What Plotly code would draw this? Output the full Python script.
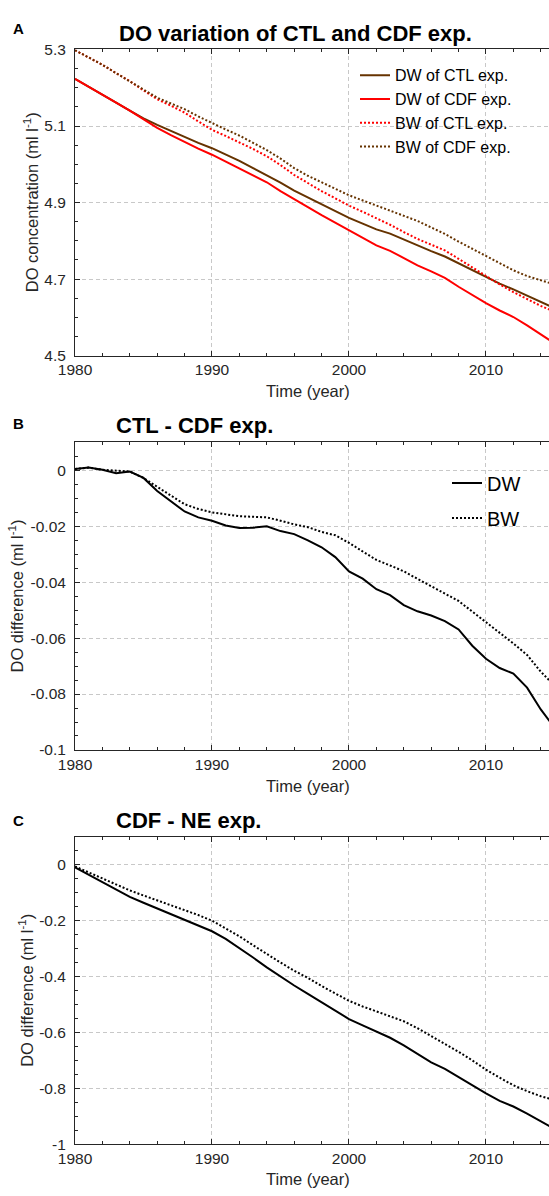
import plotly.graph_objects as go

# ---------------- data ----------------
years = list(range(1980, 2016))

# Panel A: DO concentration (ml l-1)
dw_ctl = [5.223, 5.203, 5.182, 5.161, 5.140, 5.120, 5.103, 5.087, 5.071, 5.056,
          5.042, 5.026, 5.009, 4.990, 4.972, 4.952, 4.931, 4.913, 4.895, 4.878,
          4.860, 4.845, 4.830, 4.819, 4.803, 4.788, 4.773, 4.759, 4.741, 4.722,
          4.704, 4.688, 4.673, 4.656, 4.640, 4.624]
dw_cdf = [5.223, 5.203, 5.182, 5.161, 5.140, 5.118, 5.095, 5.076, 5.058, 5.041,
          5.025, 5.007, 4.989, 4.970, 4.953, 4.930, 4.908, 4.888, 4.867, 4.847,
          4.826, 4.808, 4.788, 4.774, 4.754, 4.736, 4.720, 4.703, 4.680, 4.658,
          4.637, 4.618, 4.601, 4.579, 4.555, 4.532]
bw_ctl = [5.298, 5.279, 5.260, 5.238, 5.217, 5.193, 5.170, 5.153, 5.135, 5.112,
          5.090, 5.074, 5.058, 5.040, 5.021, 4.998, 4.972, 4.950, 4.930, 4.911,
          4.892, 4.876, 4.860, 4.842, 4.823, 4.805, 4.790, 4.775, 4.753, 4.731,
          4.707, 4.686, 4.666, 4.648, 4.630, 4.615]
bw_cdf = [5.298, 5.279, 5.260, 5.238, 5.217, 5.195, 5.174, 5.159, 5.144, 5.125,
          5.107, 5.091, 5.075, 5.056, 5.037, 5.015, 4.990, 4.970, 4.952, 4.936,
          4.919, 4.906, 4.893, 4.879, 4.866, 4.852, 4.835, 4.818, 4.798, 4.779,
          4.759, 4.740, 4.723, 4.708, 4.696, 4.686]

# Panel B: CTL - CDF exp. difference
diffB_dw = [0.0005, 0.001, 0.0002, -0.001, -0.0004, -0.0027, -0.0074, -0.011, -0.0147, -0.0168,
            -0.018, -0.0197, -0.0206, -0.0205, -0.020, -0.0217, -0.0228, -0.025, -0.0275, -0.031,
            -0.0361, -0.0387, -0.0425, -0.0446, -0.0482, -0.0504, -0.0519, -0.0539, -0.0569, -0.0627,
            -0.0674, -0.0707, -0.0727, -0.0777, -0.0855, -0.092]
diffB_bw = [0.0005, 0.001, 0.0002, -0.0002, -0.0004, -0.0027, -0.006, -0.009, -0.0121, -0.0138,
            -0.015, -0.0158, -0.0164, -0.0166, -0.0168, -0.018, -0.0193, -0.0203, -0.022, -0.0232,
            -0.0259, -0.029, -0.032, -0.034, -0.0361, -0.0388, -0.0414, -0.044, -0.0467, -0.0505,
            -0.0543, -0.058, -0.0619, -0.066, -0.072, -0.077]

# Panel C: CDF - NE exp. difference
diffC_dw = [-0.0095, -0.036, -0.062, -0.089, -0.115, -0.136, -0.156, -0.177, -0.197, -0.217,
            -0.238, -0.265, -0.297, -0.332, -0.367, -0.400, -0.432, -0.462, -0.492, -0.522,
            -0.552, -0.575, -0.596, -0.619, -0.646, -0.675, -0.707, -0.730, -0.760, -0.789,
            -0.818, -0.845, -0.865, -0.890, -0.917, -0.945]
diffC_bw = [-0.006, -0.028, -0.050, -0.071, -0.092, -0.110, -0.127, -0.145, -0.162, -0.180,
            -0.200, -0.227, -0.256, -0.288, -0.320, -0.350, -0.379, -0.405, -0.434, -0.460,
            -0.487, -0.507, -0.525, -0.542, -0.560, -0.585, -0.613, -0.640, -0.669, -0.700,
            -0.733, -0.762, -0.789, -0.810, -0.828, -0.842]

x_ticks = [1980, 1990, 2000, 2010]
x_ticktext = ["1980", "1990", "2000", "2010"]
a_ticks = [4.5, 4.7, 4.9, 5.1, 5.3]
a_ticktext = ["4.5", "4.7", "4.9", "5.1", "5.3"]
b_ticks = [0, -0.02, -0.04, -0.06, -0.08, -0.1]
b_ticktext = ["0", "-0.02", "-0.04", "-0.06", "-0.08", "-0.1"]
c_ticks = [0, -0.2, -0.4, -0.6, -0.8, -1]
c_ticktext = ["0", "-0.2", "-0.4", "-0.6", "-0.8", "-1"]

# ---------------- layout helpers ----------------
W, H = 549, 1196
L = 75
FONT = "Liberation Sans, Arial, Helvetica, sans-serif"
AX = "#262626"
BROWN = "#663300"
RED = "#ff0000"


def px(p):
    return (p - L) / (W - L)


def py(p):
    return 1 - p / H


fig = go.Figure()

# Panel A
fig.add_trace(go.Scatter(x=years, y=dw_ctl, mode="lines", name="DW of CTL exp.",
                         line=dict(color=BROWN, width=2), legend="legend",
                         xaxis="x", yaxis="y"))
fig.add_trace(go.Scatter(x=years, y=dw_cdf, mode="lines", name="DW of CDF exp.",
                         line=dict(color=RED, width=2), legend="legend",
                         xaxis="x", yaxis="y"))
fig.add_trace(go.Scatter(x=years, y=bw_ctl, mode="lines", name="BW of CTL exp.",
                         line=dict(color=RED, width=2, dash="2px,2px"), legend="legend",
                         xaxis="x", yaxis="y"))
fig.add_trace(go.Scatter(x=years, y=bw_cdf, mode="lines", name="BW of CDF exp.",
                         line=dict(color=BROWN, width=2, dash="2px,2px"), legend="legend",
                         xaxis="x", yaxis="y"))

# Panel B
fig.add_trace(go.Scatter(x=years, y=diffB_dw, mode="lines", name="DW",
                         line=dict(color="black", width=2), legend="legend2", legendgroup="b1",
                         xaxis="x2", yaxis="y2"))
fig.add_trace(go.Scatter(x=years, y=diffB_bw, mode="lines", name="BW",
                         line=dict(color="black", width=2, dash="2px,2px"), legend="legend2",
                         legendgroup="b2", xaxis="x2", yaxis="y2"))

# Panel C
fig.add_trace(go.Scatter(x=years, y=diffC_dw, mode="lines", name="DW", showlegend=False,
                         line=dict(color="black", width=2), xaxis="x3", yaxis="y3"))
fig.add_trace(go.Scatter(x=years, y=diffC_bw, mode="lines", name="BW", showlegend=False,
                         line=dict(color="black", width=2, dash="2px,2px"), xaxis="x3", yaxis="y3"))

tickfont = dict(family=FONT, size=15.5, color=AX)


def xaxis(anchor):
    return dict(range=[1980, 2014.6], tickvals=x_ticks, ticktext=x_ticktext,
                ticks="inside", ticklen=5, tickcolor=AX, tickwidth=1,
                showline=True, linecolor=AX, linewidth=1, mirror="ticks",
                showgrid=True, gridcolor="#c8c8c8", griddash="4px,3px", gridwidth=1,
                zeroline=False, tickfont=tickfont, anchor=anchor, domain=[0, 1],
                minor=dict(tickmode="linear", tick0=1980, dtick=2, ticks="inside",
                           ticklen=3, tickcolor=AX, showgrid=False),
                fixedrange=True)


def yaxis(anchor, rng, tv, tt, dom, minor_dtick, minor_tick0):
    return dict(range=rng, tickvals=tv, ticktext=tt, ticks="inside", ticklen=5,
                tickcolor=AX, tickwidth=1, showline=True, linecolor=AX, linewidth=1,
                mirror=False, showgrid=True, gridcolor="#c8c8c8", griddash="4px,3px",
                gridwidth=1, zeroline=False, tickfont=tickfont, anchor=anchor,
                domain=dom, ticklabelstandoff=5,
                minor=dict(tickmode="linear", tick0=minor_tick0, dtick=minor_dtick,
                           ticks="inside", ticklen=3, tickcolor=AX, showgrid=False),
                fixedrange=True)


fig.update_layout(
    width=W, height=H,
    margin=dict(l=L, r=0, t=0, b=0),
    paper_bgcolor="white", plot_bgcolor="white",
    font=dict(family=FONT, color=AX),
    xaxis=xaxis("y"),
    xaxis2=xaxis("y2"),
    xaxis3=xaxis("y3"),
    yaxis=yaxis("x", [4.4999, 5.3001], a_ticks, a_ticktext, [py(351.7), py(41)], 0.05, 4.5),
    yaxis2=yaxis("x2", [-0.10002, 0.01], b_ticks, b_ticktext, [py(751.7), py(439.7)], 0.005, 0),
    yaxis3=yaxis("x3", [-1.0002, 0.1], c_ticks, c_ticktext, [py(1151.7), py(839.7)], 0.05, 0),
    legend=dict(x=px(355), y=py(50), xanchor="left", yanchor="top",
                bgcolor="rgba(0,0,0,0)", borderwidth=0, itemwidth=30,
                font=dict(family=FONT, size=16, color="black"), tracegroupgap=0),
    legend2=dict(x=px(447), y=py(461), xanchor="left", yanchor="top",
                 bgcolor="rgba(0,0,0,0)", borderwidth=0, itemwidth=30,
                 font=dict(family=FONT, size=20, color="black"), tracegroupgap=6),
    showlegend=True,
)

anns = []


def ann(text, x, y, size, bold=False, xanchor="center", angle=0, color="black"):
    anns.append(dict(text=("<b>%s</b>" % text) if bold else text, x=px(x), y=py(y),
                     xref="paper", yref="paper", xanchor=xanchor, yanchor="middle",
                     showarrow=False, textangle=angle,
                     font=dict(family=FONT, size=size, color=color)))


# panel letters
ann("A", 18, 20, 15, bold=True)
ann("B", 18, 420, 15, bold=True)
ann("C", 18, 823, 15, bold=True)
# titles
ann("DO variation of CTL and CDF exp.", 295, 25, 22, bold=True)
ann("CTL - CDF exp.", 114, 423, 22, bold=True, xanchor="left")
ann("CDF - NE exp.", 114, 823, 22, bold=True, xanchor="left")
# x titles
ann("Time (year)", 308, 388, 16.5, color=AX)
ann("Time (year)", 308, 788, 16.5, color=AX)
ann("Time (year)", 308, 1187, 16.5, color=AX)
# y titles
ann("DO concentration (ml l<sup>-1</sup>)", 31, 196, 16.5, angle=-90, color=AX)
ann("DO difference (ml l<sup>-1</sup>)", 16, 596, 16.5, angle=-90, color=AX)
ann("DO difference (ml l<sup>-1</sup>)", 26, 996, 16.5, angle=-90, color=AX)

fig.update_layout(annotations=anns)

fig.write_html("out.html",
               config={"displayModeBar": False},
               post_script="document.body.style.margin='0';document.body.style.overflow='hidden';")
